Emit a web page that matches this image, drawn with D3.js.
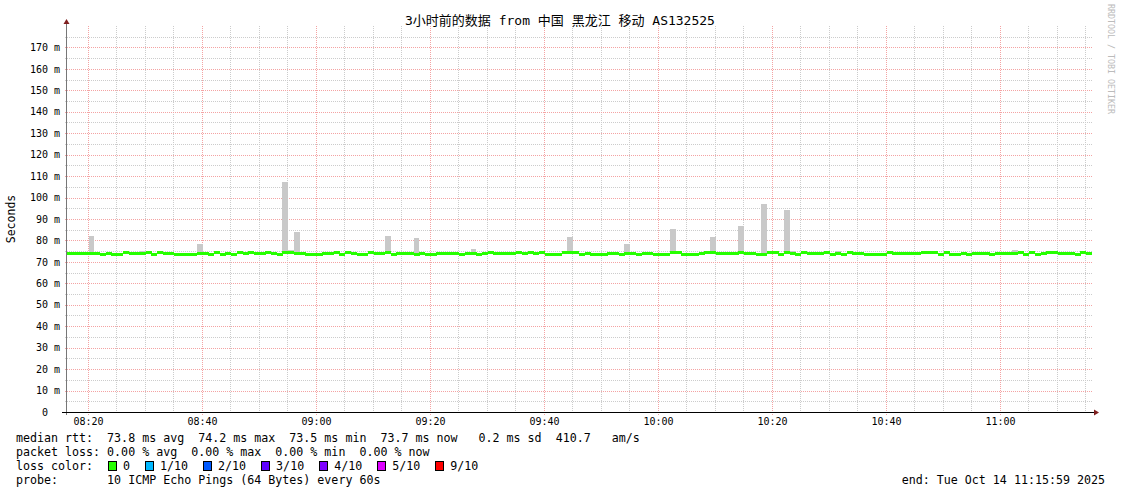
<!DOCTYPE html>
<html><head><meta charset="utf-8">
<script src="https://cdn.jsdelivr.net/npm/d3@7"></script>
<style>
html,body{margin:0;padding:0;background:#fff;}
svg{display:block;}
text{font-family:"DejaVu Sans Mono","Noto Sans CJK SC",monospace;white-space:pre;}
</style></head><body>
<svg id="c" width="1121" height="494"></svg>
<script>
// ---------- data ----------
const titleText = "3小时前的数据 from 中国 黑龙江 移动 AS132525";
const yAxisTitle = "Seconds";
const sideText = "RRDTOOL / TOBI OETIKER";
const viewStart = new Date(2025, 9, 14, 8, 16, 19);
const viewEnd = new Date(2025, 9, 14, 11, 16, 19);
const firstSample = new Date(2025, 9, 14, 8, 16, 7);
const stepMinutes = 1;
const yMax = 180;
const yTicks = [0,10,20,30,40,50,60,70,80,90,100,110,120,130,140,150,160,170];

// median rtt (ms) per minute, 180 samples
const medianRtt = [
  74.0,74.0,74.0,74.0,73.8,73.8,73.5,73.8,73.5,73.5,
  74.2,73.8,73.8,73.8,74.2,73.5,74.2,73.8,73.8,73.5,
  73.5,73.5,73.5,73.8,73.8,73.5,74.2,73.5,73.8,73.5,
  74.2,73.8,74.2,73.8,73.8,74.2,73.8,73.5,74.2,74.2,
  73.8,73.8,73.5,73.5,73.5,73.8,73.8,74.2,73.5,74.2,
  73.8,73.5,73.5,74.2,73.8,73.8,74.2,73.5,73.8,73.8,
  73.8,73.5,73.8,73.5,73.5,73.8,73.8,73.8,73.8,73.5,
  73.9,73.8,73.5,73.8,74.2,73.8,73.8,73.8,73.8,74.2,
  73.8,74.2,73.8,74.2,73.5,73.5,73.5,74.2,74.2,74.2,
  73.5,73.8,73.5,73.5,73.5,73.8,73.8,73.5,73.8,73.8,
  73.5,73.8,73.8,73.5,73.5,73.5,74.2,74.2,73.5,73.5,
  73.5,73.8,74.2,74.2,73.8,73.8,73.8,73.8,74.2,73.8,
  73.8,73.5,73.5,74.2,74.2,73.5,74.2,73.8,73.5,74.2,
  73.8,73.8,73.8,74.2,73.5,73.8,73.5,74.2,73.8,73.8,
  73.5,73.5,73.5,73.5,74.2,73.8,73.8,73.8,73.8,73.8,
  74.2,74.2,74.2,73.5,74.2,73.5,73.5,73.8,73.5,73.8,
  73.8,73.8,73.5,73.8,73.8,73.8,73.8,74.2,73.5,74.2,
  73.5,73.8,74.2,74.2,73.8,73.8,73.8,73.5,74.2,73.8
];
// highest ping of the minute (smoke), only where it stands out
const spikeIndex = [4, 13, 23, 38, 39, 40, 56, 61, 71, 88, 98, 106, 107, 113, 118, 122, 124, 126, 127, 129, 133, 135, 166];
const spikeMax   = [82.0, 74.9, 78.3, 107.2, 75.3, 83.9, 82.2, 81.1, 76.0, 81.6, 78.3, 85.3, 74.9, 81.7, 86.9, 96.9, 75.2, 94.0, 75.0, 74.9, 75.0, 75.0, 75.3];

const legendRtt = "median rtt:  73.8 ms avg  74.2 ms max  73.5 ms min  73.7 ms now   0.2 ms sd  410.7   am/s";
const legendLoss = "packet loss: 0.00 % avg  0.00 % max  0.00 % min  0.00 % now";
const legendColorLabel = "loss color:";
const lossLabels = ["0", "1/10", "2/10", "3/10", "4/10", "5/10", "9/10"];
const lossColors = ["#26ff00", "#00b8ff", "#0059ff", "#5e00ff", "#7e00ff", "#dd00ff", "#ff0000"];
const legendProbe = "probe:       10 ICMP Echo Pings (64 Bytes) every 60s";
const legendEnd = "end: Tue Oct 14 11:15:59 2025";

// ---------- chart ----------
const svg = d3.select("#c");
svg.append("rect").attr("width", 1121).attr("height", 494).attr("fill", "#fff");

const L = 67, R = 1093, T = 25.9, B = 412;
const x = d3.scaleTime().domain([viewStart, viewEnd]).range([L, R]);
const y = d3.scaleLinear().domain([0, yMax]).range([B, T]);

const samples = medianRtt.map((m, i) => ({
  t0: d3.timeMinute.offset(firstSample, i * stepMinutes),
  t1: d3.timeMinute.offset(firstSample, (i + 1) * stepMinutes),
  m
}));
const spikes = spikeIndex.map((i, k) => ({ ...samples[i], top: spikeMax[k] }));

svg.append("defs").append("clipPath").attr("id", "plot")
  .append("rect").attr("x", L).attr("y", T).attr("width", R - L).attr("height", B - T);

// grid
const grid = svg.append("g").attr("shape-rendering", "crispEdges");
const minorY = d3.range(5, yMax + 1, 10);
grid.selectAll(".hmin").data(minorY).join("line")
  .attr("x1", L - 2).attr("x2", R).attr("y1", d => Math.round(y(d)) + 0.5).attr("y2", d => Math.round(y(d)) + 0.5)
  .attr("stroke", "#cccccc").attr("stroke-dasharray", "1,1");
const minorX = d3.timeMinute.every(5).range(viewStart, viewEnd).filter(d => d.getMinutes() % 20 !== 0);
grid.selectAll(".vmin").data(minorX).join("line")
  .attr("x1", d => Math.round(x(d)) + 0.5).attr("x2", d => Math.round(x(d)) + 0.5).attr("y1", T).attr("y2", B + 2)
  .attr("stroke", "#cccccc").attr("stroke-dasharray", "1,1");
grid.selectAll(".hmaj").data(yTicks.slice(1)).join("line")
  .attr("x1", L - 2).attr("x2", R).attr("y1", d => Math.round(y(d)) + 0.5).attr("y2", d => Math.round(y(d)) + 0.5)
  .attr("stroke", "#f4a3a3").attr("stroke-dasharray", "1,1");
const majorX = d3.timeMinute.every(20).range(viewStart, viewEnd);
grid.selectAll(".vmaj").data(majorX).join("line")
  .attr("x1", d => Math.round(x(d)) + 0.5).attr("x2", d => Math.round(x(d)) + 0.5).attr("y1", T).attr("y2", B + 3)
  .attr("stroke", "#f4a3a3").attr("stroke-dasharray", "1,1");

// smoke + median
const plot = svg.append("g").attr("clip-path", "url(#plot)").attr("shape-rendering", "crispEdges");
plot.selectAll(".smoke").data(spikes).join("rect")
  .attr("x", d => x(d.t0)).attr("width", d => x(d.t1) - x(d.t0))
  .attr("y", d => y(d.top)).attr("height", d => y(d.m) - y(d.top))
  .attr("fill", "#c9c9c9");
plot.selectAll(".med").data(samples).join("rect")
  .attr("x", d => x(d.t0)).attr("width", d => x(d.t1) - x(d.t0) + 0.3)
  .attr("y", d => y(d.m) - 1.6).attr("height", 3)
  .attr("fill", lossColors[0]);

// axes
svg.append("line").attr("x1", L - 0.5).attr("x2", L - 0.5).attr("y1", B + 3).attr("y2", T - 3)
  .attr("stroke", "#777").attr("shape-rendering", "crispEdges");
svg.append("line").attr("x1", L - 5).attr("x2", R + 2).attr("y1", B + 0.5).attr("y2", B + 0.5)
  .attr("stroke", "#000").attr("shape-rendering", "crispEdges");
svg.append("path").attr("d", `M${L - 3.5},${T - 2} L${L + 2.5},${T - 2} L${L - 0.5},${T - 7} Z`).attr("fill", "#7f1f1f");
svg.append("path").attr("d", `M${R + 1},${B - 2.5} L${R + 1},${B + 3.5} L${R + 6},${B + 0.5} Z`).attr("fill", "#7f1f1f");

// y tick labels
svg.selectAll(".yl").data(yTicks).join("text")
  .attr("x", d => d === 0 ? 48 : 60).attr("y", d => y(d) + 3.7)
  .attr("text-anchor", "end").attr("font-size", 10).attr("fill", "#000")
  .text(d => d === 0 ? "0" : `${d} m`);
// x tick labels
const fmt = d3.timeFormat("%H:%M");
svg.selectAll(".xl").data(majorX).join("text")
  .attr("x", d => x(d) + 0.5).attr("y", 425)
  .attr("text-anchor", "middle").attr("font-size", 10).attr("fill", "#000")
  .text(d => fmt(d));

// titles
svg.append("text").attr("x", 560).attr("y", 25).attr("text-anchor", "middle")
  .attr("font-size", 13).attr("fill", "#000").text(titleText);
svg.append("text").attr("transform", "translate(15,219) rotate(-90)").attr("text-anchor", "middle")
  .attr("font-size", 11.5).attr("fill", "#000").text(yAxisTitle);
svg.append("text").attr("transform", "translate(1108,4) rotate(90)").attr("text-anchor", "start")
  .attr("font-size", 8.3).attr("fill", "#bbbbbb").text(sideText);

// legend
const fs = 11.65, cw = fs * 0.602;
const lg = svg.append("g").attr("font-size", fs).attr("fill", "#000");
lg.append("text").attr("x", 16).attr("y", 442).text(legendRtt);
lg.append("text").attr("x", 16).attr("y", 456).text(legendLoss);
lg.append("text").attr("x", 16).attr("y", 470).text(legendColorLabel);
lg.append("text").attr("x", 16).attr("y", 484).text(legendProbe);
lg.append("text").attr("x", 1105).attr("y", 484).attr("text-anchor", "end").text(legendEnd);
let bx = 108;
lossLabels.forEach((lab, i) => {
  lg.append("rect").attr("x", bx + 0.5).attr("y", 461.5).attr("width", 8).attr("height", 9)
    .attr("fill", lossColors[i]).attr("stroke", "#000").attr("shape-rendering", "crispEdges");
  lg.append("text").attr("x", bx + 15).attr("y", 470).text(lab);
  bx = bx + 15 + lab.length * cw + 15;
});
</script>
</body></html>
